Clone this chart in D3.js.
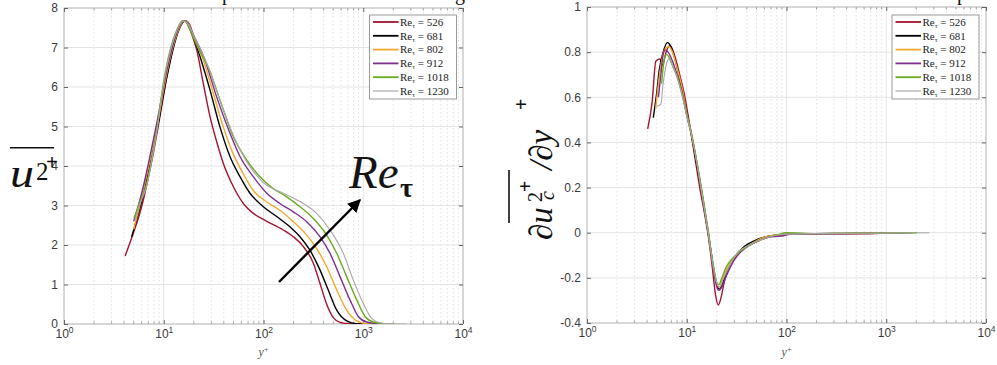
<!DOCTYPE html>
<html>
<head>
<meta charset="utf-8">
<script src="https://cdn.jsdelivr.net/npm/d3@7"></script>
<style>
  body { margin: 0; background: #fff; }
  svg { display: block; }
</style>
</head>
<body>
<div id="chart"></div>
<script>
// ---- data (y+, value) ----
const reTau = [526, 681, 802, 912, 1018, 1230];

// streamwise variance u_c^2+
const u2_526 = [[4.1,1.72],[4.95,2.3],[5.6,2.7],[6.24,3.14],[7,3.7],[7.86,4.32],[8.8,5.0],[9.9,5.75],[10.7,6.25],[11.6,6.68],[12.7,7.1],[14,7.44],[15.2,7.62],[16.3,7.68],[18,7.5],[19.6,7.25],[21.4,6.94],[24.9,6.09],[29.1,5.25],[33.9,4.62],[39.5,4.07],[49.8,3.48],[62.8,3.05],[79,2.8],[108,2.6],[158,2.38],[199,2.21],[251,1.96],[316,1.54],[368,1.03],[430,0.5],[501,0.16],[585,0.04],[700,0.01],[1050,0]];
const u2_681 = [[4.77,2.21],[5.3,2.6],[6,3.1],[7,3.85],[8,4.55],[9,5.2],[10,5.85],[11.5,6.6],[13,7.15],[14.5,7.5],[16.5,7.68],[18,7.6],[20,7.25],[23.1,6.77],[29.1,5.92],[36.6,4.99],[46.1,4.24],[58.1,3.73],[73.2,3.31],[99.6,2.97],[135.6,2.72],[184,2.46],[232,2.21],[292,1.87],[368,1.37],[446,0.86],[542,0.35],[682,0.08],[860,0.01],[1360,0]];
const u2_802 = [[5.0,2.4],[5.5,2.8],[6.2,3.35],[7,3.95],[8,4.65],[9,5.3],[10,5.95],[11.5,6.7],[13,7.2],[14.5,7.52],[16.3,7.68],[18,7.6],[20.5,7.2],[24.9,6.68],[31.4,5.84],[39.5,4.99],[49.8,4.3],[62.8,3.8],[79,3.38],[108,3.09],[146,2.88],[199,2.59],[271,2.25],[341,1.91],[430,1.45],[542,0.86],[682,0.35],[860,0.08],[1081,0.01],[1600,0]];
const u2_912 = [[5.0,2.6],[5.5,2.95],[6.2,3.45],[7,4.05],[8,4.75],[9,5.4],[10,6.05],[11.5,6.75],[13,7.25],[14.5,7.55],[16,7.68],[17.5,7.62],[20,7.3],[25.9,6.68],[33.9,5.75],[46.1,4.83],[58.1,4.24],[79,3.73],[108,3.31],[146,3.05],[199,2.84],[271,2.59],[368,2.21],[464,1.79],[585,1.2],[736,0.61],[892,0.19],[1081,0.05],[1365,0.01],[1820,0]];
const u2_1018 = [[5.03,2.68],[5.8,3.1],[6.74,3.55],[7.6,4.2],[8.5,4.9],[9.9,6.09],[11.6,6.94],[13.5,7.44],[15.5,7.68],[17,7.62],[19,7.35],[22,7.0],[28,6.5],[36.6,5.67],[49.8,4.74],[67.9,4.15],[92.2,3.73],[125,3.43],[171,3.22],[232,2.97],[316,2.67],[430,2.25],[542,1.79],[682,1.2],[860,0.61],[1042,0.19],[1262,0.05],[1589,0.01],[2030,0]];
const u2_1230 = [[5.1,2.6],[5.8,3.05],[6.74,3.5],[7.6,4.15],[8.5,4.85],[9.9,6.05],[11.6,6.9],[13.5,7.42],[15.8,7.67],[17.5,7.6],[20,7.3],[28,6.5],[36.6,5.67],[49.8,4.78],[67.9,4.11],[99.6,3.58],[158,3.31],[232,3.1],[341,2.8],[464,2.38],[631,1.79],[795,1.11],[1002,0.52],[1216,0.14],[1472,0.03],[1854,0.005],[2700,0]];

// wall-normal gradient d(u_c^2+)/dy+
const du_526 = [[4.06,0.46],[4.5,0.58],[4.9,0.76],[5.4,0.77],[5.7,0.74],[6.2,0.8],[6.8,0.83],[7.5,0.79],[8.5,0.7],[9.5,0.61],[10.5,0.5],[12,0.34],[13.5,0.2],[15,0.09],[16.5,-0.02],[18,-0.15],[19.5,-0.28],[20.7,-0.32],[22,-0.29],[24,-0.21],[27,-0.15],[32,-0.1],[40,-0.06],[50,-0.04],[65,-0.02],[90,-0.01],[150,-0.005],[300,-0.005],[600,-0.005],[1050,0]];
const du_681 = [[4.62,0.51],[5.0,0.62],[5.3,0.72],[5.8,0.8],[6.4,0.842],[7.0,0.82],[7.6,0.77],[8.5,0.68],[9.5,0.58],[11.2,0.43],[12.5,0.31],[13.9,0.2],[15.2,0.09],[16.4,0],[18.5,-0.15],[20,-0.23],[21.3,-0.25],[23,-0.22],[26,-0.16],[30,-0.11],[38,-0.06],[48,-0.035],[60,-0.02],[80,-0.01],[120,-0.005],[300,-0.003],[800,-0.003],[1360,0]];
const du_802 = [[4.88,0.55],[5.2,0.66],[5.6,0.76],[6.0,0.81],[6.6,0.825],[7.2,0.8],[8,0.73],[9,0.64],[10,0.53],[11.2,0.44],[13.9,0.2],[16.4,0],[18.5,-0.16],[20,-0.23],[21.3,-0.24],[23,-0.2],[26,-0.15],[30,-0.11],[38,-0.07],[48,-0.04],[60,-0.02],[80,-0.01],[150,-0.005],[500,-0.003],[1600,0]];
const du_912 = [[5.2,0.6],[5.5,0.7],[5.8,0.79],[6.1,0.81],[6.5,0.8],[7.2,0.76],[8,0.7],[9,0.62],[10,0.52],[11.2,0.43],[13.9,0.2],[16.4,0],[18.5,-0.16],[20,-0.24],[21,-0.255],[22.5,-0.24],[25,-0.19],[30,-0.12],[38,-0.07],[50,-0.04],[65,-0.02],[90,-0.015],[110,-0.005],[200,-0.005],[600,-0.003],[1820,0]];
const du_1018 = [[5.6,0.66],[5.9,0.76],[6.2,0.79],[6.6,0.78],[7.2,0.74],[8,0.69],[9,0.61],[10,0.52],[11.2,0.43],[13.9,0.21],[16.4,0.01],[18.5,-0.15],[20,-0.22],[21,-0.23],[22.5,-0.2],[25,-0.15],[28,-0.12],[35,-0.08],[45,-0.05],[60,-0.025],[80,-0.01],[100,0],[200,-0.004],[600,-0.002],[2030,0]];
const du_1230 = [[5.0,0.56],[5.5,0.57],[5.8,0.66],[6.2,0.74],[6.6,0.77],[7.2,0.74],[8,0.69],[9,0.61],[10,0.52],[11.2,0.43],[13.9,0.2],[16.4,0],[18.5,-0.15],[20,-0.22],[21.5,-0.24],[23,-0.21],[26,-0.16],[32,-0.09],[40,-0.06],[50,-0.04],[65,-0.02],[90,-0.008],[200,-0.004],[800,-0.002],[2700,0]];

const xTicks = [1, 10, 100, 1000, 10000];
const yTicksLeft = [0, 1, 2, 3, 4, 5, 6, 7, 8];
const yTicksRight = [-0.4, -0.2, 0, 0.2, 0.4, 0.6, 0.8, 1];

const colors = ['#a2142f', '#000000', '#f0a830', '#7e2f8e', '#6aaa20', '#a8a8a8'];

const width = 997, height = 365;
const svg = d3.select('#chart').append('svg')
    .attr('width', width)
    .attr('height', height)
    .style('font-family', 'Liberation Sans, Arial, sans-serif');

function drawPanel(opts) {
    const { left, right, top, bottom, yDomain, yTicks, series, legendX, clipId } = opts;

    const xScale = d3.scaleLog().domain([1, 10000]).range([left, right]);
    const yScale = d3.scaleLinear().domain(yDomain).range([bottom, top]);

    const g = svg.append('g');

    // minor grid (dotted)
    const minor = [];
    [1, 10, 100, 1000].forEach(d => { for (let k = 2; k <= 9; k++) minor.push(d * k); });
    g.selectAll('.minor-grid').data(minor).enter().append('line')
        .attr('x1', d => xScale(d)).attr('x2', d => xScale(d))
        .attr('y1', top).attr('y2', bottom)
        .attr('stroke', '#d6d6d6').attr('stroke-width', 0.7)
        .attr('stroke-dasharray', '1.5,2.5');

    // major grid
    g.selectAll('.vgrid').data(xTicks).enter().append('line')
        .attr('x1', d => xScale(d)).attr('x2', d => xScale(d))
        .attr('y1', top).attr('y2', bottom)
        .attr('stroke', '#e2e2e2').attr('stroke-width', 0.9);
    g.selectAll('.hgrid').data(yTicks).enter().append('line')
        .attr('x1', left).attr('x2', right)
        .attr('y1', d => yScale(d)).attr('y2', d => yScale(d))
        .attr('stroke', '#e2e2e2').attr('stroke-width', 0.9);

    // minor ticks, bottom and top, pointing inside
    g.selectAll('.mtick-b').data(minor).enter().append('line')
        .attr('x1', d => xScale(d)).attr('x2', d => xScale(d))
        .attr('y1', bottom).attr('y2', bottom - 2.5)
        .attr('stroke', '#777').attr('stroke-width', 0.7);
    g.selectAll('.mtick-t').data(minor).enter().append('line')
        .attr('x1', d => xScale(d)).attr('x2', d => xScale(d))
        .attr('y1', top).attr('y2', top + 2.5)
        .attr('stroke', '#777').attr('stroke-width', 0.7);

    // box
    g.append('rect')
        .attr('x', left).attr('y', top)
        .attr('width', right - left).attr('height', bottom - top)
        .attr('fill', 'none').attr('stroke', '#bdbdbd').attr('stroke-width', 1);

    // axes
    const xAxis = g.append('g')
        .attr('class', 'x-axis')
        .attr('transform', `translate(0, ${bottom})`)
        .call(d3.axisBottom(xScale).tickValues(xTicks).tickSizeInner(-4).tickSizeOuter(0).tickPadding(5));
    xAxis.select('.domain').remove();
    xAxis.selectAll('.tick line').attr('stroke', '#666');
    xAxis.selectAll('.tick text').each(function (d) {
        const t = d3.select(this);
        t.text('');
        t.append('tspan').text('10');
        t.append('tspan').attr('dy', '-0.55em').attr('font-size', '8.5px').text(Math.round(Math.log10(d)));
    })
        .attr('fill', '#3a3a3a').attr('font-size', '12px');

    g.append('g')
        .attr('transform', `translate(0, ${top})`)
        .call(d3.axisTop(xScale).tickValues(xTicks).tickSizeInner(-4).tickSizeOuter(0).tickFormat(''))
        .call(a => a.select('.domain').remove())
        .selectAll('.tick line').attr('stroke', '#666');

    const yAxis = g.append('g')
        .attr('class', 'y-axis')
        .attr('transform', `translate(${left}, 0)`)
        .call(d3.axisLeft(yScale).tickValues(yTicks).tickSizeInner(-4).tickSizeOuter(0).tickPadding(6)
            .tickFormat(d => String(+d.toFixed(1))));
    yAxis.select('.domain').remove();
    yAxis.selectAll('.tick line').attr('stroke', '#666');
    yAxis.selectAll('.tick text').attr('fill', '#3a3a3a').attr('font-size', '12px');

    g.append('g')
        .attr('transform', `translate(${right}, 0)`)
        .call(d3.axisRight(yScale).tickValues(yTicks).tickSizeInner(-4).tickSizeOuter(0).tickFormat(''))
        .call(a => a.select('.domain').remove())
        .selectAll('.tick line').attr('stroke', '#666');

    // x label
    const xl = g.append('text')
        .attr('x', (left + right) / 2).attr('y', 356)
        .attr('text-anchor', 'middle')
        .attr('fill', '#555')
        .style('font-family', 'Liberation Serif, serif')
        .style('font-style', 'italic')
        .style('font-size', '12px');
    xl.append('tspan').text('y');
    xl.append('tspan').attr('dy', '-0.45em').style('font-style', 'normal').style('font-size', '8px').text('+');

    // curves
    svg.append('clipPath').attr('id', clipId).append('rect')
        .attr('x', left).attr('y', top).attr('width', right - left).attr('height', bottom - top);

    const line = d3.line()
        .x(dp => xScale(dp[0]))
        .y(dp => yScale(dp[1]))
        .curve(d3.curveMonotoneX);

    g.append('g').attr('clip-path', `url(#${clipId})`)
        .selectAll('path')
        .data(series)
        .enter()
        .append('path')
        .attr('d', s => line(s))
        .attr('fill', 'none')
        .attr('stroke', (s, i) => colors[i])
        .attr('stroke-width', (s, i) => i === 5 ? 1.1 : 1.4)
        .attr('stroke-linejoin', 'round');

    // legend
    const lg = g.append('g').attr('transform', `translate(${legendX}, 15)`);
    lg.append('rect')
        .attr('width', 87).attr('height', 84)
        .attr('fill', '#fff').attr('stroke', '#9a9a9a').attr('stroke-width', 1);
    reTau.forEach((re, i) => {
        const yy = 7 + i * 13.8;
        lg.append('line')
            .attr('x1', 3.5).attr('x2', 29).attr('y1', yy).attr('y2', yy)
            .attr('stroke', colors[i]).attr('stroke-width', i === 5 ? 1.2 : 1.8);
        const t = lg.append('text')
            .attr('x', 30.5).attr('y', yy + 3.8)
            .attr('fill', '#222')
            .style('font-family', 'Liberation Serif, serif')
            .style('font-size', '11px');
        t.append('tspan').text('Re');
        t.append('tspan').attr('dy', 2).style('font-size', '7px').text('τ');
        t.append('tspan').attr('dy', -2).text(' = ' + re);
    });

    return { xScale, yScale };
}

drawPanel({
    left: 64, right: 463, top: 8, bottom: 324,
    yDomain: [0, 8], yTicks: yTicksLeft,
    series: [u2_526, u2_681, u2_802, u2_912, u2_1018, u2_1230],
    legendX: 369.5, clipId: 'clip-left'
});

drawPanel({
    left: 587, right: 986, top: 7, bottom: 323,
    yDomain: [-0.4, 1], yTicks: yTicksRight,
    series: [du_526, du_681, du_802, du_912, du_1018, du_1230],
    legendX: 892, clipId: 'clip-right'
});

// clipped title fragments at the very top
const frag = svg.append('g')
    .style('font-family', 'Liberation Serif, serif')
    .style('font-size', '20px')
    .attr('fill', '#111');
[['p', 222], ['g', 455], ['/', 641], ['p', 957]].forEach(([ch, x]) => {
    frag.append('text').attr('x', x).attr('y', 0).text(ch);
});

// left y label: overline u_c^2+ (cut at the bottom)
svg.append('clipPath').attr('id', 'clip-ylab').append('rect')
    .attr('x', 0).attr('y', 120).attr('width', 60).attr('height', 68);
const yl = svg.append('g').attr('clip-path', 'url(#clip-ylab)')
    .style('font-family', 'Liberation Serif, serif')
    .attr('fill', '#111');
yl.append('line').attr('x1', 10).attr('x2', 54).attr('y1', 147.7).attr('y2', 147.7)
    .attr('stroke', '#111').attr('stroke-width', 1.6);
yl.append('text').attr('x', 10).attr('y', 187)
    .attr('textLength', 24).attr('lengthAdjust', 'spacingAndGlyphs')
    .style('font-style', 'italic').style('font-size', '40px').text('u');
yl.append('text').attr('x', 36).attr('y', 180).style('font-size', '25px').text('2');
yl.append('text').attr('x', 36).attr('y', 199).style('font-style', 'italic').style('font-size', '24px').text('c');
yl.append('text').attr('x', 46).attr('y', 169).style('font-size', '21px').style('font-weight', 'bold').text('+');

// right y label: overline d u_c^2+ / d y+, rotated
const ry = svg.append('g')
    .attr('transform', 'translate(552, 240) rotate(-90)')
    .style('font-family', 'Liberation Serif, serif')
    .attr('fill', '#111');
ry.append('text').attr('x', 0).attr('y', 0).style('font-style', 'italic').style('font-size', '33px').text('∂u');
ry.append('text').attr('x', 40).attr('y', 2).style('font-style', 'italic').style('font-size', '20px').text('c');
ry.append('text').attr('x', 38).attr('y', -10).style('font-size', '20px').text('2');
ry.append('text').attr('x', 48).attr('y', -20).style('font-size', '20px').style('font-weight', 'bold').text('+');
ry.append('text').attr('x', 70).attr('y', 0).style('font-style', 'italic').style('font-size', '33px').text('/∂y');
ry.append('text').attr('x', 130).attr('y', -24).style('font-size', '20px').style('font-weight', 'bold').text('+');
ry.append('line').attr('x1', 17).attr('x2', 70).attr('y1', -43).attr('y2', -43)
    .attr('stroke', '#111').attr('stroke-width', 1.6);

// Re_tau annotation with arrow
const ann = svg.append('g').attr('fill', '#141414').style('font-family', 'Liberation Serif, serif');
ann.append('text').attr('x', 349).attr('y', 188).style('font-style', 'italic').style('font-size', '47px').text('Re');
ann.append('text').attr('x', 400).attr('y', 197).style('font-size', '28px').style('font-weight', 'bold').text('τ');

svg.append('defs').append('marker')
    .attr('id', 'arrowhead')
    .attr('viewBox', '0 0 10 10')
    .attr('refX', 9).attr('refY', 5)
    .attr('markerWidth', 5.5).attr('markerHeight', 5.5)
    .attr('markerUnits', 'strokeWidth')
    .attr('orient', 'auto')
    .append('path').attr('d', 'M0,0 L10,5 L0,10 Z').attr('fill', '#000');
svg.append('line')
    .attr('x1', 279).attr('y1', 282).attr('x2', 360).attr('y2', 200)
    .attr('stroke', '#000').attr('stroke-width', 2.4)
    .attr('marker-end', 'url(#arrowhead)');
</script>
</body>
</html>
